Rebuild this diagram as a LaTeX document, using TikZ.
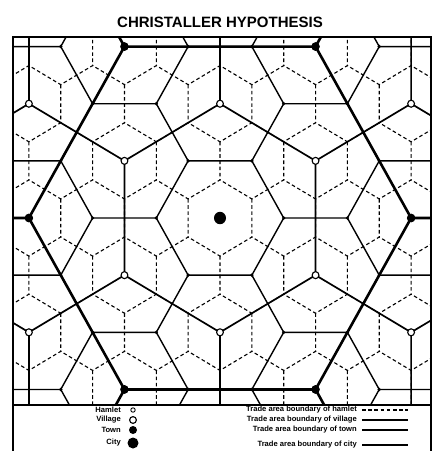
\documentclass[tikz,border=0pt]{standalone}
\usepackage{fontspec}
\setmainfont{Liberation Sans}

\begin{document}
\begin{tikzpicture}[x=1pt, y=-1pt,
		hamletline/.style={line width=1.1pt, dash pattern=on 3.6pt off 2.6pt},
		villageline/.style={line width=1.4pt},
		townline/.style={line width=1.7pt},
		cityline/.style={line width=2.6pt},
		framebox/.style={line width=1.3pt},
		legendtext/.style={font=\fontsize{7.6}{8}\selectfont\bfseries, inner sep=0pt, anchor=east},
	]
	\def\d{63.7}
	\def\cx{220}
	\def\cy{218}
	\pgfmathsetmacro\rh{\d/sqrt(3)}
	\pgfmathsetmacro\rv{\d}
	\pgfmathsetmacro\rt{\d*sqrt(3)}
	\pgfmathsetmacro\rc{3*\d}
	\useasboundingbox (0, 0) rectangle (433, 451);

	\node (title) at (\cx, 22) {\fontsize{15}{17}\selectfont\bfseries CHRISTALLER HYPOTHESIS};

	\begin{scope}
		\clip (13, 37) rectangle (431, 405);
		\begin{scope}[shift={(\cx, \cy)}, yscale=1.036]
			% trade areas, lowest order first
			\foreach \i in {-8, ..., 8} {
					\foreach \j in {-4, ..., 4} {
							\draw[hamletline, shift={({\i*\d + \j*\d/2}, {\j*\d*sqrt(3)/2})}]
							(-30:\rh) -- (30:\rh) -- (90:\rh) -- (150:\rh);
						}
				}
			\foreach \i in {-3, ..., 3} {
					\foreach \j in {-5, ..., 5} {
							\draw[villageline, shift={({\i*\rt*cos(30)}, {\i*\rt/2 + \j*\rt})}]
							(-60:\rv) -- (0:\rv) -- (60:\rv) -- (120:\rv);
						}
				}
			\foreach \i in {-3, ..., 3} {
					\foreach \j in {-2, ..., 2} {
							\draw[townline, shift={({\i*3*\d + \j*1.5*\d}, {\j*1.5*\d*sqrt(3)})}]
							(-30:\rt) -- (30:\rt) -- (90:\rt) -- (150:\rt);
						}
				}
			\foreach \i in {-2, ..., 2} {
					\foreach \j in {-2, ..., 2} {
							\draw[cityline, shift={({\i*3*\rt*cos(30)}, {\i*1.5*\rt + \j*3*\rt})}]
							(-60:\rc) -- (0:\rc) -- (60:\rc) -- (120:\rc);
						}
				}

			% central places
			\foreach \i in {-8, ..., 8} {
					\foreach \j in {-4, ..., 4} {
							\fill ({\i*\d + \j*\d/2}, {\j*\d*sqrt(3)/2}) circle (1.8pt);
						}
				}
			\foreach \i in {-3, ..., 3} {
					\foreach \j in {-5, ..., 5} {
							\filldraw[fill=white, line width=1.1pt] ({\i*\rt*cos(30)}, {\i*\rt/2 + \j*\rt}) circle (3.4pt);
						}
				}
			\foreach \i in {-3, ..., 3} {
					\foreach \j in {-2, ..., 2} {
							\fill ({\i*3*\d + \j*1.5*\d}, {\j*1.5*\d*sqrt(3)}) circle (4.2pt);
						}
				}
			\fill (0, 0) circle (6pt);
		\end{scope}
	\end{scope}

	\draw[framebox] (13, 37) rectangle (431, 455);
	\draw[framebox] (13, 405) -- (431, 405);

	% legend: places
	\node[legendtext] (hamlet) at (121, 410) {Hamlet};
	\node[legendtext] (village) at (121, 420) {Village};
	\node[legendtext] (town) at (121, 430) {Town};
	\node[legendtext] (city) at (121, 443) {City};
	\draw[line width=0.9pt] (133, 410) circle (2.2pt);
	\filldraw[fill=white, line width=1.1pt] (133, 420) circle (3.4pt);
	\fill (133, 430) circle (4pt);
	\fill (133, 443) circle (5.5pt);

	% legend: boundaries
	\node[legendtext] (hamletb) at (357, 410) {Trade area boundary of hamlet};
	\node[legendtext] (villageb) at (357, 420) {Trade area boundary of village};
	\node[legendtext] (townb) at (357, 430) {Trade area boundary of town};
	\node[legendtext] (cityb) at (357, 445) {Trade area boundary of city};
	\draw[hamletline] (362, 410) -- (408, 410);
	\draw[villageline] (362, 420) -- (408, 420);
	\draw[townline] (362, 430) -- (408, 430);
	\draw[cityline] (362, 445) -- (408, 445);
\end{tikzpicture}
\end{document}
